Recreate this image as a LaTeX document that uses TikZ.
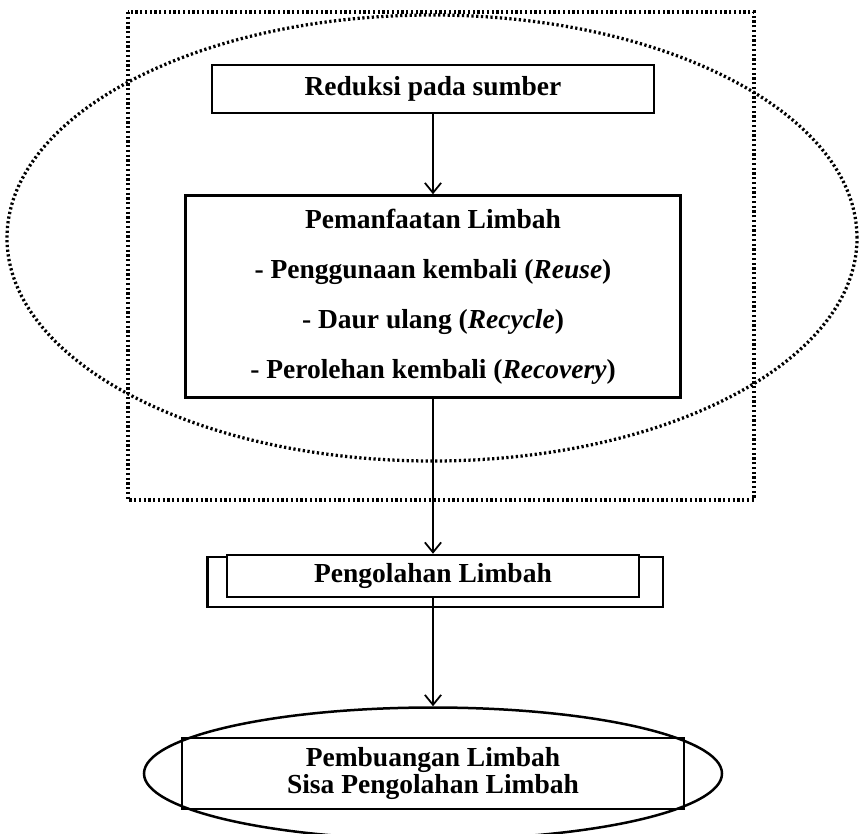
\documentclass[tikz,border=0pt]{standalone}
\usepackage{fontspec}
\setmainfont{Liberation Serif}
\usetikzlibrary{arrows.meta,positioning,shapes.geometric,backgrounds}

\begin{document}
\begin{tikzpicture}[x=0.4pt, y=-0.4pt,
  box/.style={draw, line width=1pt, align=center, font=\fontsize{11}{13}\selectfont\bfseries, inner sep=2pt},
  arr/.style={-{Straight Barb[length=4pt,width=6.5pt]}, line width=0.7pt},
  dotline/.style={line width=1.3pt, dash pattern=on 0.9pt off 1pt}
]
\useasboundingbox (0,0) rectangle (861,834);
% dotted frame and ellipse
\draw[dotline] (128,12) rectangle (754,500);
\draw[dotline] (432,238) ellipse [x radius=170pt, y radius=89.2pt];

\node[box, minimum width=176.8pt, minimum height=19.2pt] (red) at (433,89) {Reduksi pada sumber};
\node[box, minimum width=198pt, minimum height=80.8pt, font=\fontsize{11}{20}\selectfont\bfseries, below=32pt of red] (pm)
  {Pemanfaatan Limbah\\- Penggunaan kembali (\textit{Reuse})\\- Daur ulang (\textit{Recycle})\\- Perolehan kembali (\textit{Recovery})};
\node[box, fill=white, minimum width=164.8pt, minimum height=16.8pt, below=62pt of pm] (pl) {Pengolahan Limbah};
\begin{scope}[on background layer]
  \draw[line width=1pt] ([xshift=-7.2pt,yshift=-1.2pt]pl.north west) rectangle ([xshift=9pt,yshift=-3.5pt]pl.south east);
\end{scope}
\node[draw, ellipse, line width=1pt, minimum width=231.2pt, minimum height=52.8pt, below=43.2pt of pl] (elp) {};
\node[box, minimum width=200.8pt, minimum height=28.4pt, font=\fontsize{11}{11}\selectfont\bfseries] (buang) at (elp)
  {Pembuangan Limbah\\Sisa Pengolahan Limbah};

\draw[arr] (red) -- (pm);
\draw[arr] (pm) -- (pl);
\draw[arr] (pl) -- (elp);
\end{tikzpicture}
\end{document}
